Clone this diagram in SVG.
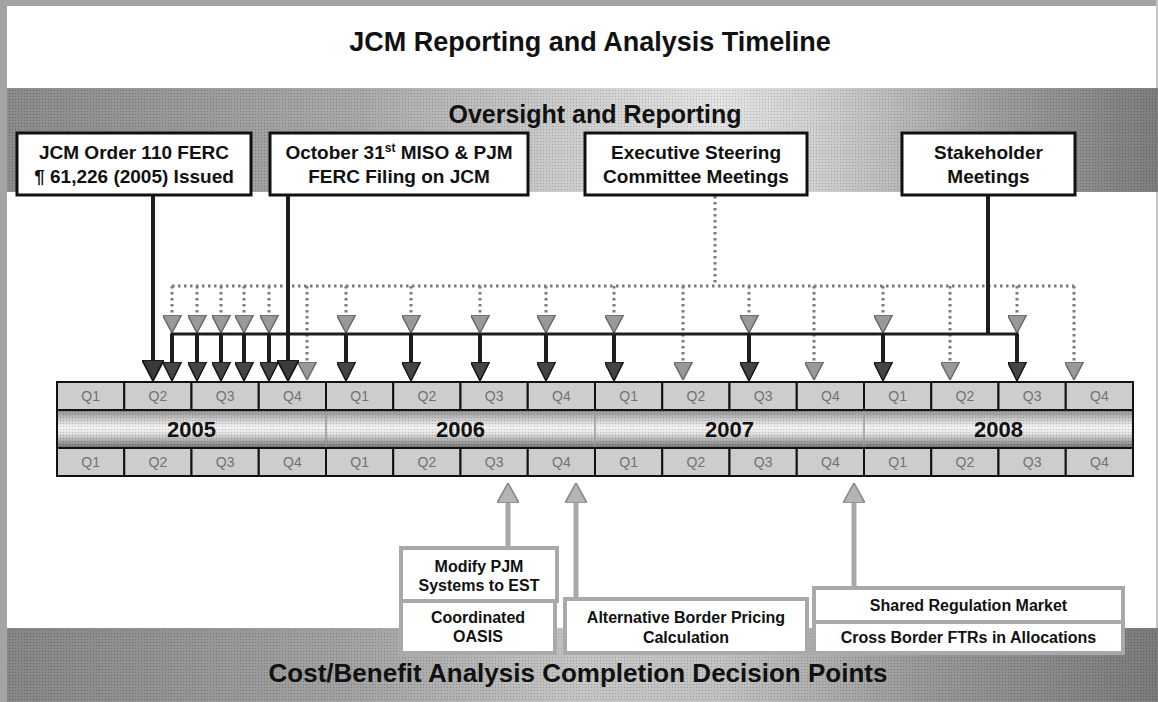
<svg xmlns="http://www.w3.org/2000/svg" width="1158" height="702" viewBox="0 0 1158 702">
<style>
.t{font-family:"Liberation Sans",Arial,sans-serif;font-weight:bold;fill:#111;text-anchor:middle}
.h1{font-size:27px}
.h2{font-size:25px}
.hb{font-size:26px}
.bx{font-size:19px}
.sm{font-size:16px}
.yr{font-size:22px}
.q{font-family:"Liberation Sans",Arial,sans-serif;font-size:14px;fill:#727272;text-anchor:middle}
.box{fill:#fff;stroke:#111;stroke-width:3}
.gbox{fill:#fff;stroke:#a9a9a9;stroke-width:4}
.cell{fill:#cdcdcd;stroke:#111;stroke-width:2}
.sol{stroke:#1e1e1e;stroke-width:4;fill:none}
.hl{stroke:#1e1e1e;stroke-width:3;fill:none}
.dot{stroke:#7a7a7a;stroke-width:3;stroke-dasharray:2.5 3.5;fill:none}
.up{stroke:#a8a8a8;stroke-width:5;fill:none}
</style>
<defs>
<linearGradient id="gTop" x1="0" y1="0" x2="1" y2="0">
<stop offset="0" stop-color="#888"/><stop offset="0.3" stop-color="#a6a6a6"/><stop offset="0.5" stop-color="#cdcdcd"/><stop offset="0.62" stop-color="#e2e2e2"/><stop offset="0.72" stop-color="#c9c9c9"/><stop offset="0.86" stop-color="#9a9a9a"/><stop offset="1" stop-color="#7a7a7a"/>
</linearGradient>
<linearGradient id="gBot" x1="0" y1="0" x2="1" y2="0">
<stop offset="0" stop-color="#838383"/><stop offset="0.3" stop-color="#a0a0a0"/><stop offset="0.5" stop-color="#c4c4c4"/><stop offset="0.62" stop-color="#c0c0c0"/><stop offset="0.8" stop-color="#959595"/><stop offset="1" stop-color="#787878"/>
</linearGradient>
<linearGradient id="gYr" x1="0" y1="0" x2="0" y2="1">
<stop offset="0" stop-color="#8a8a8a"/><stop offset="0.25" stop-color="#c8c8c8"/><stop offset="0.45" stop-color="#f4f4f4"/><stop offset="0.6" stop-color="#e6e6e6"/><stop offset="0.8" stop-color="#ababab"/><stop offset="1" stop-color="#6a6a6a"/>
</linearGradient>
<pattern id="ht" width="3" height="3" patternUnits="userSpaceOnUse"><rect width="1" height="1" fill="#000" fill-opacity="0.18"/><rect x="1.5" y="1.5" width="1" height="1" fill="#fff" fill-opacity="0.15"/></pattern>
<marker id="hb" viewBox="0 0 20 20" refX="0" refY="10" markerUnits="userSpaceOnUse" markerWidth="21" markerHeight="22" orient="auto" preserveAspectRatio="none"><path d="M0,0 L20,10 L0,20 z" fill="#3a3a3a" stroke="#111" stroke-width="1.5"/></marker>
<marker id="hd" viewBox="0 0 20 20" refX="0" refY="10" markerUnits="userSpaceOnUse" markerWidth="19" markerHeight="19" orient="auto" preserveAspectRatio="none"><path d="M0,0 L20,10 L0,20 z" fill="#444" stroke="#111" stroke-width="1.5"/></marker>
<marker id="hg" viewBox="0 0 20 20" refX="0" refY="10" markerUnits="userSpaceOnUse" markerWidth="18" markerHeight="19" orient="auto" preserveAspectRatio="none"><path d="M0,0 L20,10 L0,20 z" fill="#999" stroke="#666" stroke-width="1.5"/></marker>
<marker id="hu" viewBox="0 0 20 20" refX="0" refY="10" markerUnits="userSpaceOnUse" markerWidth="20" markerHeight="22" orient="auto" preserveAspectRatio="none"><path d="M0,0 L20,10 L0,20 z" fill="#b4b4b4" stroke="#8a8a8a" stroke-width="1.5"/></marker>
</defs>

<rect width="1158" height="702" fill="#fff"/>
<g id="frame">
<rect x="0" y="0" width="1158" height="6" fill="#a4a4a4"/>
<rect x="0" y="0" width="7" height="702" fill="#a4a4a4"/>
<rect x="1156" y="0" width="2" height="702" fill="#c4c4c4"/>
</g>

<g id="title">
<text class="t h1" x="590" y="51">JCM Reporting and Analysis Timeline</text>
</g>

<g id="oversight-band">
<rect x="7" y="88" width="1151" height="104" fill="url(#gTop)"/>
<rect x="7" y="88" width="1151" height="104" fill="url(#ht)"/>
<text class="t h2" x="595" y="123">Oversight and Reporting</text>
</g>

<g id="timeline">
<g id="q-top">
<rect class="cell" x="57" y="382" width="67.25" height="28"/><rect class="cell" x="124.25" y="382" width="67.25" height="28"/><rect class="cell" x="191.5" y="382" width="67.25" height="28"/><rect class="cell" x="258.75" y="382" width="67.25" height="28"/>
<rect class="cell" x="326" y="382" width="67.25" height="28"/><rect class="cell" x="393.25" y="382" width="67.25" height="28"/><rect class="cell" x="460.5" y="382" width="67.25" height="28"/><rect class="cell" x="527.75" y="382" width="67.25" height="28"/>
<rect class="cell" x="595" y="382" width="67.25" height="28"/><rect class="cell" x="662.25" y="382" width="67.25" height="28"/><rect class="cell" x="729.5" y="382" width="67.25" height="28"/><rect class="cell" x="796.75" y="382" width="67.25" height="28"/>
<rect class="cell" x="864" y="382" width="67.25" height="28"/><rect class="cell" x="931.25" y="382" width="67.25" height="28"/><rect class="cell" x="998.5" y="382" width="67.25" height="28"/><rect class="cell" x="1065.75" y="382" width="67.25" height="28"/>
<text class="q" x="90.6" y="401">Q1</text><text class="q" x="157.9" y="401">Q2</text><text class="q" x="225.1" y="401">Q3</text><text class="q" x="292.4" y="401">Q4</text>
<text class="q" x="359.6" y="401">Q1</text><text class="q" x="426.9" y="401">Q2</text><text class="q" x="494.1" y="401">Q3</text><text class="q" x="561.4" y="401">Q4</text>
<text class="q" x="628.6" y="401">Q1</text><text class="q" x="695.9" y="401">Q2</text><text class="q" x="763.1" y="401">Q3</text><text class="q" x="830.4" y="401">Q4</text>
<text class="q" x="897.6" y="401">Q1</text><text class="q" x="964.9" y="401">Q2</text><text class="q" x="1032.1" y="401">Q3</text><text class="q" x="1099.4" y="401">Q4</text>
</g>
<g id="years">
<rect x="57" y="410" width="1076" height="38" fill="url(#gYr)" stroke="#111" stroke-width="2"/>
<rect x="57" y="410" width="1076" height="38" fill="url(#ht)"/>
<path d="M326,411V447M595,411V447M864,411V447" stroke="#9a9a9a" stroke-width="1.5"/>
<text class="t yr" x="191.5" y="437">2005</text><text class="t yr" x="460.5" y="437">2006</text><text class="t yr" x="729.5" y="437">2007</text><text class="t yr" x="998.5" y="437">2008</text>
</g>
<g id="q-bottom">
<rect class="cell" x="57" y="448" width="67.25" height="28"/><rect class="cell" x="124.25" y="448" width="67.25" height="28"/><rect class="cell" x="191.5" y="448" width="67.25" height="28"/><rect class="cell" x="258.75" y="448" width="67.25" height="28"/>
<rect class="cell" x="326" y="448" width="67.25" height="28"/><rect class="cell" x="393.25" y="448" width="67.25" height="28"/><rect class="cell" x="460.5" y="448" width="67.25" height="28"/><rect class="cell" x="527.75" y="448" width="67.25" height="28"/>
<rect class="cell" x="595" y="448" width="67.25" height="28"/><rect class="cell" x="662.25" y="448" width="67.25" height="28"/><rect class="cell" x="729.5" y="448" width="67.25" height="28"/><rect class="cell" x="796.75" y="448" width="67.25" height="28"/>
<rect class="cell" x="864" y="448" width="67.25" height="28"/><rect class="cell" x="931.25" y="448" width="67.25" height="28"/><rect class="cell" x="998.5" y="448" width="67.25" height="28"/><rect class="cell" x="1065.75" y="448" width="67.25" height="28"/>
<text class="q" x="90.6" y="467">Q1</text><text class="q" x="157.9" y="467">Q2</text><text class="q" x="225.1" y="467">Q3</text><text class="q" x="292.4" y="467">Q4</text>
<text class="q" x="359.6" y="467">Q1</text><text class="q" x="426.9" y="467">Q2</text><text class="q" x="494.1" y="467">Q3</text><text class="q" x="561.4" y="467">Q4</text>
<text class="q" x="628.6" y="467">Q1</text><text class="q" x="695.9" y="467">Q2</text><text class="q" x="763.1" y="467">Q3</text><text class="q" x="830.4" y="467">Q4</text>
<text class="q" x="897.6" y="467">Q1</text><text class="q" x="964.9" y="467">Q2</text><text class="q" x="1032.1" y="467">Q3</text><text class="q" x="1099.4" y="467">Q4</text>
</g>
</g>

<g id="bottom-band">
<rect x="7" y="628" width="1151" height="74" fill="url(#gBot)"/>
<rect x="7" y="628" width="1151" height="74" fill="url(#ht)"/>
<text class="t hb" x="578" y="682">Cost/Benefit Analysis Completion Decision Points</text>
</g>

<g id="connectors">
<g id="dotted">
<path class="dot" d="M715,196V286M172,286H1074"/>
<path class="dot" d="M172,286V315M197,286V315M221,286V315M244,286V315M269,286V315M346,286V315M411,286V315M480,286V315M546,286V315M614,286V315M749,286V315M883,286V315M1017,286V315"/>
</g>
<g id="grey-heads">
<line x1="172" y1="300" x2="172" y2="315" stroke="none" marker-end="url(#hg)"/>
<line x1="197" y1="300" x2="197" y2="315" stroke="none" marker-end="url(#hg)"/>
<line x1="221" y1="300" x2="221" y2="315" stroke="none" marker-end="url(#hg)"/>
<line x1="244" y1="300" x2="244" y2="315" stroke="none" marker-end="url(#hg)"/>
<line x1="269" y1="300" x2="269" y2="315" stroke="none" marker-end="url(#hg)"/>
<line x1="346" y1="300" x2="346" y2="315" stroke="none" marker-end="url(#hg)"/>
<line x1="411" y1="300" x2="411" y2="315" stroke="none" marker-end="url(#hg)"/>
<line x1="480" y1="300" x2="480" y2="315" stroke="none" marker-end="url(#hg)"/>
<line x1="546" y1="300" x2="546" y2="315" stroke="none" marker-end="url(#hg)"/>
<line x1="614" y1="300" x2="614" y2="315" stroke="none" marker-end="url(#hg)"/>
<line x1="749" y1="300" x2="749" y2="315" stroke="none" marker-end="url(#hg)"/>
<line x1="883" y1="300" x2="883" y2="315" stroke="none" marker-end="url(#hg)"/>
<line x1="1017" y1="300" x2="1017" y2="315" stroke="none" marker-end="url(#hg)"/>
</g>
<g id="dotted-full">
<line class="dot" x1="307" y1="286" x2="307" y2="362" marker-end="url(#hg)"/>
<line class="dot" x1="683" y1="286" x2="683" y2="362" marker-end="url(#hg)"/>
<line class="dot" x1="814" y1="286" x2="814" y2="362" marker-end="url(#hg)"/>
<line class="dot" x1="950" y1="286" x2="950" y2="362" marker-end="url(#hg)"/>
<line class="dot" x1="1074" y1="286" x2="1074" y2="362" marker-end="url(#hg)"/>
</g>
<g id="solid">
<path class="hl" d="M170.5,334H1018.5"/>
<path class="sol" d="M988,196V334"/>
<line class="sol" x1="172" y1="334" x2="172" y2="362" marker-end="url(#hd)"/>
<line class="sol" x1="197" y1="334" x2="197" y2="362" marker-end="url(#hd)"/>
<line class="sol" x1="221" y1="334" x2="221" y2="362" marker-end="url(#hd)"/>
<line class="sol" x1="244" y1="334" x2="244" y2="362" marker-end="url(#hd)"/>
<line class="sol" x1="269" y1="334" x2="269" y2="362" marker-end="url(#hd)"/>
<line class="sol" x1="346" y1="334" x2="346" y2="362" marker-end="url(#hd)"/>
<line class="sol" x1="411" y1="334" x2="411" y2="362" marker-end="url(#hd)"/>
<line class="sol" x1="480" y1="334" x2="480" y2="362" marker-end="url(#hd)"/>
<line class="sol" x1="546" y1="334" x2="546" y2="362" marker-end="url(#hd)"/>
<line class="sol" x1="614" y1="334" x2="614" y2="362" marker-end="url(#hd)"/>
<line class="sol" x1="749" y1="334" x2="749" y2="362" marker-end="url(#hd)"/>
<line class="sol" x1="883" y1="334" x2="883" y2="362" marker-end="url(#hd)"/>
<line class="sol" x1="1017" y1="334" x2="1017" y2="362" marker-end="url(#hd)"/>
<line class="sol" x1="153" y1="196" x2="153" y2="360" marker-end="url(#hb)"/>
<line class="sol" x1="288" y1="196" x2="288" y2="360" marker-end="url(#hb)"/>
</g>
<g id="up-arrows">
<line class="up" x1="508" y1="548" x2="508" y2="503" marker-end="url(#hu)"/>
<line class="up" x1="576" y1="599" x2="576" y2="503" marker-end="url(#hu)"/>
<line class="up" x1="854" y1="588" x2="854" y2="503" marker-end="url(#hu)"/>
</g>
</g>

<g id="n-jcm-order">
<rect class="box" x="17" y="133" width="234" height="62"/>
<text class="t bx" x="134" y="159">JCM Order 110 FERC</text>
<text class="t bx" x="134" y="183">¶ 61,226 (2005) Issued</text>
</g>
<g id="n-october-filing">
<rect class="box" x="270" y="133" width="258" height="62"/>
<text class="t bx" x="399" y="159">October 31<tspan font-size="12" dy="-7">st</tspan><tspan dy="7"> MISO &amp; PJM</tspan></text>
<text class="t bx" x="399" y="183">FERC Filing on JCM</text>
</g>
<g id="n-executive">
<rect class="box" x="585" y="133" width="222" height="62"/>
<text class="t bx" x="696" y="159">Executive Steering</text>
<text class="t bx" x="696" y="183">Committee Meetings</text>
</g>
<g id="n-stakeholder">
<rect class="box" x="902" y="133" width="173" height="62"/>
<text class="t bx" x="988.5" y="159">Stakeholder</text>
<text class="t bx" x="988.5" y="183">Meetings</text>
</g>

<g id="n-modify-pjm">
<rect class="gbox" x="401" y="548" width="156" height="53"/>
<text class="t sm" x="479" y="572">Modify PJM</text>
<text class="t sm" x="479" y="591">Systems to EST</text>
</g>
<g id="n-coordinated-oasis">
<rect class="gbox" x="401" y="601" width="154" height="52"/>
<text class="t sm" x="478" y="623">Coordinated</text>
<text class="t sm" x="478" y="642">OASIS</text>
</g>
<g id="n-alt-border">
<rect class="gbox" x="565" y="599" width="242" height="54"/>
<text class="t sm" x="686" y="623">Alternative Border Pricing</text>
<text class="t sm" x="686" y="643">Calculation</text>
</g>
<g id="n-shared-reg">
<rect class="gbox" x="814" y="588" width="309" height="34"/>
<text class="t sm" x="968.5" y="611">Shared Regulation Market</text>
</g>
<g id="n-cross-border">
<rect class="gbox" x="814" y="622" width="309" height="31"/>
<text class="t sm" x="968.5" y="643">Cross Border FTRs in Allocations</text>
</g>
</svg>
